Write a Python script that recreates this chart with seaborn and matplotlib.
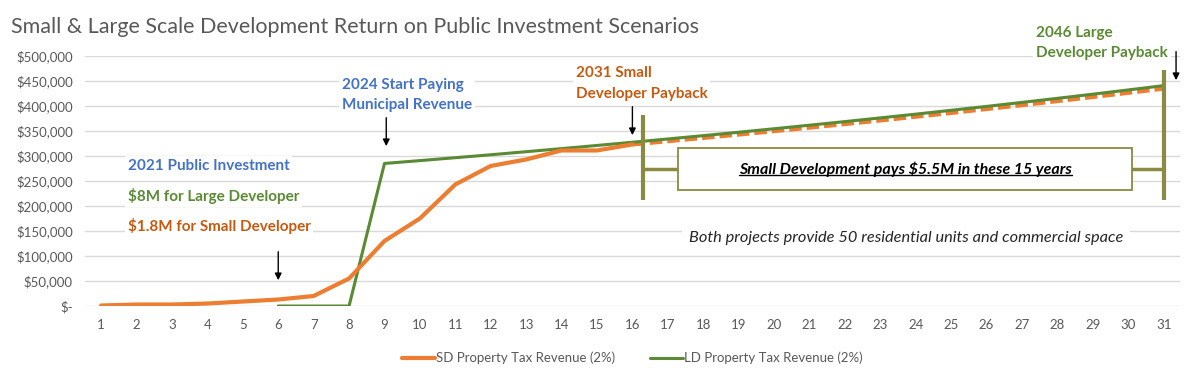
import numpy as np
import pandas as pd
import matplotlib
matplotlib.use("Agg")
import matplotlib.pyplot as plt
import seaborn as sns
from matplotlib.lines import Line2D
from matplotlib.patches import Rectangle

# data
years = list(range(1, 32))
sd_years = list(range(1, 17))
sd_revenue = [1000, 3000, 3000, 5000, 9000, 13000, 20000, 55000, 130000, 175000,
              243000, 280000, 293000, 311000, 311000, 323000]
sd_proj_years = list(range(16, 32))
sd_projected = [323000, 329500, 336100, 342800, 349600, 356600, 363800, 371000,
                378500, 386000, 393800, 401600, 409700, 417900, 426200, 434700]
ld_years = list(range(6, 32))
ld_revenue = [0, 0, 0, 285000, 290700, 296500, 302400, 308500, 314700, 321000,
              327400, 334000, 340600, 347400, 354400, 361500, 368700, 376100,
              383600, 391300, 399100, 407100, 415200, 423500, 432000, 440600]
y_ticks = [0, 50000, 100000, 150000, 200000, 250000, 300000, 350000, 400000, 450000, 500000]

orange = "#ED7D31"
green = "#5A8A34"
blue = "#4472C4"
dark_orange = "#C55A11"
olive = "#8A8A42"
gray = "#595959"

sns.set_style("white")
plt.rcParams['font.family'] = ['Lato', 'DejaVu Sans']

fig = plt.figure(figsize=(12, 3.83), dpi=100)
ax = fig.add_axes([0.071, 0.201, 0.912, 0.653])

sd = pd.DataFrame({"year": sd_years, "rev": sd_revenue})
sdp = pd.DataFrame({"year": sd_proj_years, "rev": sd_projected})
ld = pd.DataFrame({"year": ld_years, "rev": ld_revenue})

sns.lineplot(data=sdp, x="year", y="rev", color=orange, lw=3, ax=ax, linestyle=(0, (3, 1.2)))
sns.lineplot(data=ld, x="year", y="rev", color=green, lw=2.2, ax=ax, label="LD Property Tax Revenue (2%)")
sns.lineplot(data=sd, x="year", y="rev", color=orange, lw=3, ax=ax, label="SD Property Tax Revenue (2%)")

ax.set_xlim(0.55, 31.45)
ax.set_ylim(0, 500000)
ax.set_xticks(years)
ax.set_yticks(y_ticks)
ax.set_yticklabels(["$-"] + ["${:,.0f}".format(v) for v in y_ticks[1:]])
ax.tick_params(axis="both", length=0, labelsize=9.5, colors=gray, pad=9)
ax.grid(axis="y", color="#D9D9D9", lw=1)
ax.set_axisbelow(True)
ax.set_xlabel("")
ax.set_ylabel("")
for s in ax.spines.values():
    s.set_visible(False)

handles, labels = ax.get_legend_handles_labels()
ax.legend(handles[::-1], labels[::-1], loc="upper center", bbox_to_anchor=(0.5, -0.135),
          ncol=2, frameon=False, fontsize=9.5, handlelength=2.5, columnspacing=2.6,
          labelcolor=gray, handletextpad=0.1)

fig.text(0.009, 0.915, "Small & Large Scale Development Return on Public Investment Scenarios",
         fontsize=15.5, color=gray)

white = dict(facecolor="white", edgecolor="none", pad=2)
fs = 11
ax.text(1.75, 280000, "2021 Public Investment", color=blue, fontsize=fs, fontweight="bold", bbox=white, va="center")
ax.text(1.75, 220000, "$8M for Large Developer", color=green, fontsize=fs, fontweight="bold", bbox=white, va="center")
ax.text(1.75, 160000, "$1.8M for Small Developer", color=dark_orange, fontsize=fs, fontweight="bold", bbox=white, va="center")
ax.text(7.8, 422000, "2024 Start Paying\nMunicipal Revenue", color=blue, fontsize=fs, fontweight="bold",
        bbox=white, va="center", linespacing=1.6)
ax.text(14.4, 445000, "2031 Small\nDeveloper Payback", color=dark_orange, fontsize=fs, fontweight="bold",
        bbox=white, va="center", linespacing=1.6)
ax.text(27.4, 526000, "2046 Large\nDeveloper Payback", color=green, fontsize=fs, fontweight="bold",
        bbox=dict(facecolor="white", edgecolor="none", pad=2), va="center", linespacing=1.6, clip_on=False)

arrow = dict(arrowstyle="-|>", color="black", lw=1, mutation_scale=10)
ax.annotate("", xy=(6, 46000), xytext=(6, 114000), arrowprops=arrow)
ax.annotate("", xy=(9.05, 314000), xytext=(9.05, 382000), arrowprops=arrow)
ax.annotate("", xy=(16.0, 336000), xytext=(16.0, 404000), arrowprops=arrow)
ax.annotate("", xy=(31.35, 446000), xytext=(31.35, 514000), arrowprops=arrow, annotation_clip=False)

ax.text(17.6, 136000, "Both projects provide 50 residential units and commercial space",
        fontsize=11.8, style="italic", color="#262626", bbox=dict(facecolor="white", edgecolor="none", pad=5),
        va="center")

# bracket around the 15 payback years
ax.plot([16.3, 16.3], [212000, 382000], color=olive, lw=3, solid_capstyle="butt")
ax.plot([31.0, 31.0], [212000, 472000], color=olive, lw=3, solid_capstyle="butt", clip_on=False)
ax.plot([16.3, 17.3], [274000, 274000], color=olive, lw=2.5)
ax.plot([30.1, 31.0], [274000, 274000], color=olive, lw=2.5)
ax.add_patch(Rectangle((17.3, 232000), 12.8, 84000, facecolor="white", edgecolor=olive, lw=1.3, zorder=5))
box_txt = ax.text(23.7, 274000, "Small Development pays $5.5M in these 15 years", fontsize=11.5,
                  fontweight="bold", style="italic", ha="center", va="center", color="black", zorder=6)

fig.canvas.draw()
bb = box_txt.get_window_extent().transformed(fig.transFigure.inverted())
fig.add_artist(Line2D([bb.x0, bb.x1], [bb.y0 + 0.004, bb.y0 + 0.004], color="black", lw=1,
                      transform=fig.transFigure, zorder=7))

fig.savefig("out.png", dpi=100)
